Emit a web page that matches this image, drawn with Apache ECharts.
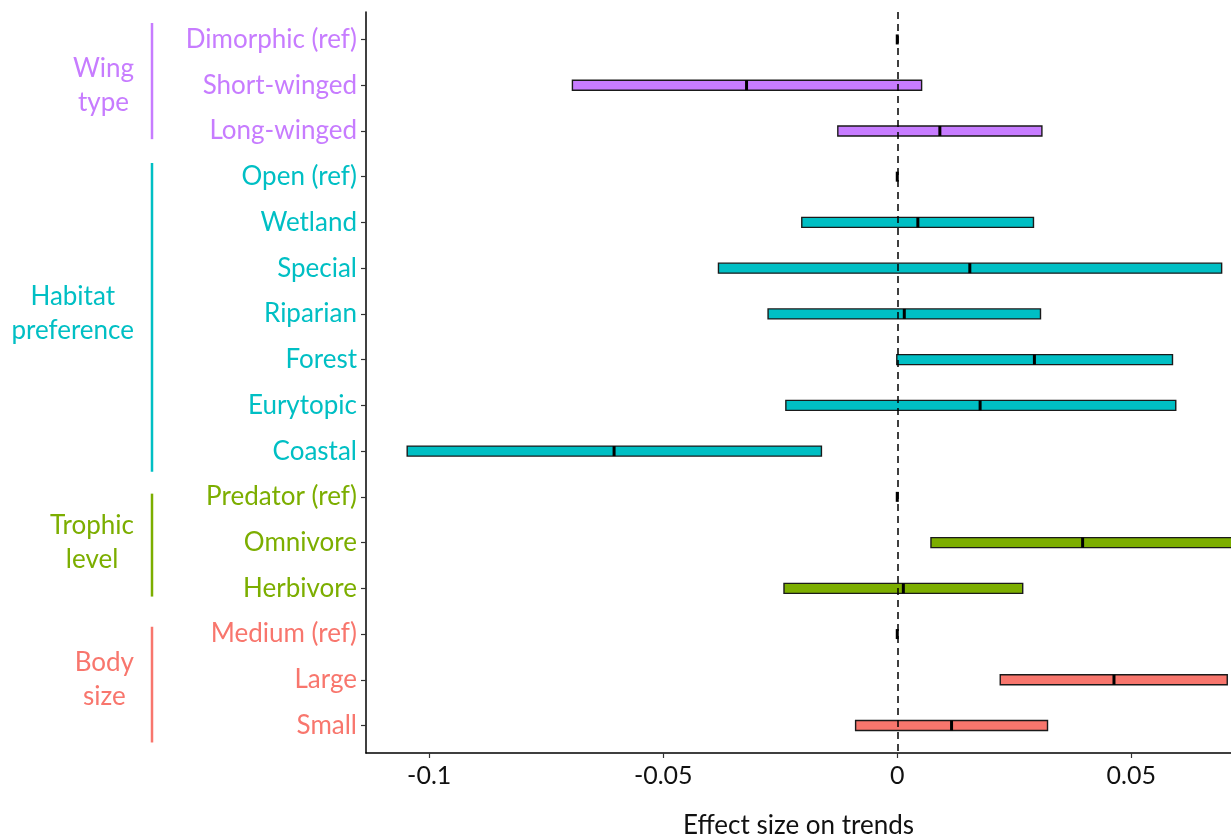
<!DOCTYPE html>
<html><head><meta charset="utf-8">
<script src="https://cdn.jsdelivr.net/npm/echarts@6/dist/echarts.min.js"></script>
<style>html,body{margin:0;padding:0;background:#fff}#c{width:1231px;height:836px}</style>
</head><body><div id="c"></div>
<script>
const categories = ['Dimorphic (ref)','Short-winged','Long-winged','Open (ref)','Wetland','Special','Riparian','Forest','Eurytopic','Coastal','Predator (ref)','Omnivore','Herbivore','Medium (ref)','Large','Small'];
const rowGroup = [0,0,0,1,1,1,1,1,1,1,2,2,2,3,3,3];
const lower    = [0,-0.0694,-0.0127,0,-0.0204,-0.0382,-0.0276,-0.0001,-0.0238,-0.1047,0,0.0072,-0.0242,0,0.0220,-0.0089];
const estimate = [0,-0.0322, 0.0091,0, 0.0044, 0.0155, 0.0015, 0.0293, 0.0177,-0.0605,0,0.0396, 0.0013,0,0.0463, 0.0116];
const upper    = [0, 0.0052, 0.0309,0, 0.0291, 0.0693, 0.0306, 0.0588, 0.0595,-0.0162,0,0.0725, 0.0268,0,0.0705, 0.0321];
const groupNames  = ['Wing\ntype','Habitat\npreference','Trophic\nlevel','Body\nsize'];
const groupColors = ['#C77CFF','#00BFC4','#7CAE00','#F8766D'];
const groupSpans  = [[-0.36,2.18],[2.7,9.45],[9.93,12.18],[12.84,15.37]];
const xTicks = [-0.1,-0.05,0,0.05];
const xTickLabels = ['-0.1','-0.05','0','0.05'];
const xTitle = 'Effect size on trends';

const FONT = 'Lato';
const FS = 26;
const chart = echarts.init(document.getElementById('c'), null, {renderer:'canvas'});
const rows = categories.map((c,i)=>i);
const data = rows.map(i=>[i, lower[i], estimate[i], upper[i]]);
const rich = {};
groupColors.forEach((c,g)=>{ rich['g'+g] = {color:c, fontSize:FS, fontFamily:FONT}; });

const option = {
  animation:false,
  backgroundColor:'#fff',
  grid:{left:366, right:0, top:12, bottom:83, containLabel:false, outerBoundsMode:'none'},
  xAxis:{
    type:'value', min:-0.1135, max:0.0713,
    splitLine:{show:false},
    axisLine:{show:true, onZero:false, lineStyle:{color:'#000', width:1.5}},
    axisTick:{show:true, length:5, customValues:xTicks, lineStyle:{color:'#333', width:1.2}},
    axisLabel:{customValues:xTicks, margin:10, fontSize:25, color:'#111', fontFamily:FONT,
      formatter:v=>{ const k = xTicks.findIndex(t=>Math.abs(t-v)<1e-9); return k>=0?xTickLabels[k]:''; }},
    name:xTitle, nameLocation:'middle', nameGap:60,
    nameTextStyle:{fontSize:FS, color:'#111', fontFamily:FONT}
  },
  yAxis:{
    type:'value', min:-0.6, max:15.6, inverse:true,
    splitLine:{show:false},
    axisLine:{show:true, onZero:false, lineStyle:{color:'#000', width:1.5}},
    axisTick:{show:true, length:5, customValues:rows, lineStyle:{color:'#333', width:1.2}},
    axisLabel:{customValues:rows, margin:9, fontSize:FS, fontFamily:FONT, rich:rich,
      formatter:v=>{ const i=Math.round(v); return '{g'+rowGroup[i]+'|'+categories[i]+'}'; }}
  },
  series:[
    {
      type:'custom',
      data:data,
      encode:{x:[1,2,3], y:0},
      z:2,
      renderItem:function(params, api){
        const row = api.value(0);
        const lo = api.coord([api.value(1), row]);
        const mid = api.coord([api.value(2), row]);
        const hi = api.coord([api.value(3), row]);
        const cs = params.coordSys;
        const h = 10;
        const col = groupColors[rowGroup[row]];
        const children = [];
        if (hi[0]-lo[0] > 0.5) {
          const r = echarts.graphic.clipRectByRect(
            {x:lo[0], y:lo[1]-h/2, width:hi[0]-lo[0], height:h},
            {x:cs.x, y:cs.y, width:cs.width+1, height:cs.height});
          if (r) children.push({type:'rect', shape:r, style:{fill:col, stroke:'#1a1a1a', lineWidth:1.4}});
        }
        children.push({type:'rect', shape:{x:mid[0]-1.5, y:mid[1]-h/2, width:3, height:h}, style:{fill:'#000'}});
        return {type:'group', children:children};
      }
    },
    {
      type:'scatter', data:[], z:5,
      markLine:{
        silent:true, symbol:['none','none'], label:{show:false},
        lineStyle:{color:'#000', type:[7,5], width:1.5},
        data:[{xAxis:0}]
      }
    }
  ]
};
chart.setOption(option);

// group labels and bracket lines on the left
const ctx = document.createElement('canvas').getContext('2d');
ctx.font = FS + 'px ' + FONT;
const graphics = [];
groupNames.forEach((name,g)=>{
  const idx = rows.filter(i=>rowGroup[i]===g);
  const yMid = (chart.convertToPixel({yAxisIndex:0}, idx[0]) + chart.convertToPixel({yAxisIndex:0}, idx[idx.length-1]))/2;
  const y1 = chart.convertToPixel({yAxisIndex:0}, groupSpans[g][0]);
  const y2 = chart.convertToPixel({yAxisIndex:0}, groupSpans[g][1]);
  const w = Math.max(...name.split('\n').map(s=>ctx.measureText(s).width));
  graphics.push({type:'line', shape:{x1:152, y1:y1, x2:152, y2:y2}, style:{stroke:groupColors[g], lineWidth:2.5}});
  graphics.push({type:'text', x:134 - w/2, y:yMid, style:{text:name, fill:groupColors[g], font:FS+'px '+FONT, align:'center', verticalAlign:'middle', lineHeight:34}});
});
chart.setOption({graphic:graphics});
</script>
</body></html>
